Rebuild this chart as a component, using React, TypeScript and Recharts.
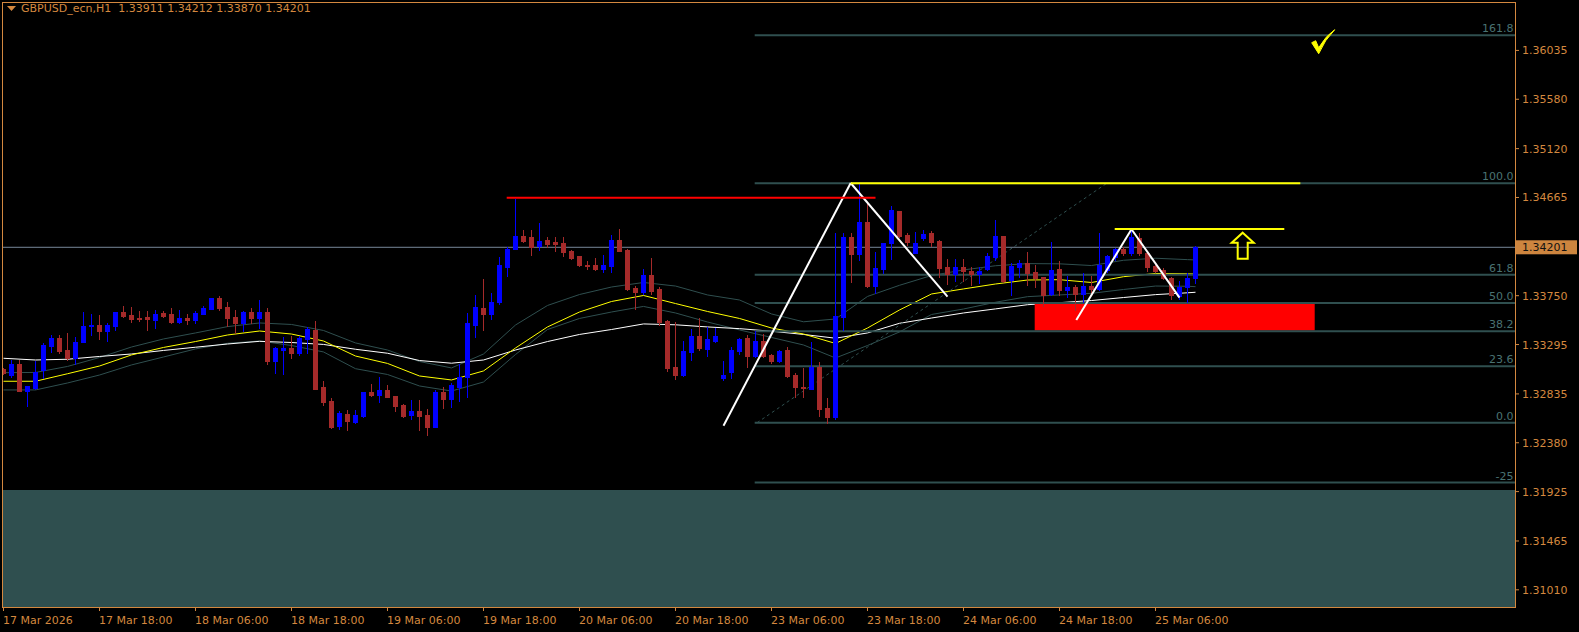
import React from 'react';
import { ComposedChart, Bar, Line, XAxis, YAxis, ReferenceLine, ReferenceArea, ReferenceDot } from 'recharts';

// ---------- data ----------
const symbolTitle = 'GBPUSD_ecn,H1';

const opens = [1.33064,1.33012,1.33114,1.32866,1.32890,1.33058,1.33285,1.33356,1.33244,1.33173,1.33319,1.33468,1.33477,1.33425,1.33471,1.33598,1.33570,1.33546,1.33555,1.33527,1.33589,1.33580,1.33508,1.33546,1.33527,1.33583,1.33626,1.33729,1.33645,1.33552,1.33499,1.33598,1.33546,1.33598,1.33142,1.33248,1.33263,1.33217,1.33347,1.33431,1.32900,1.32769,1.32540,1.32648,1.32577,1.32633,1.32853,1.32825,1.32872,1.32816,1.32732,1.32639,1.32676,1.32639,1.32527,1.32853,1.32788,1.32900,1.32993,1.33477,1.33636,1.33580,1.33692,1.34018,1.34185,1.34306,1.34297,1.34213,1.34269,1.34250,1.34241,1.34167,1.34120,1.34036,1.34036,1.33999,1.34027,1.34269,1.34176,1.33822,1.33785,1.33943,1.33813,1.33515,1.33086,1.33012,1.33226,1.33375,1.33254,1.33328,1.32987,1.33040,1.33235,1.33356,1.33189,1.33328,1.33198,1.33142,1.33244,1.33012,1.32900,1.32884,1.33089,1.32707,1.32623,1.33555,1.34294,1.34139,1.34440,1.33843,1.33999,1.34238,1.34539,1.34316,1.34145,1.34290,1.34337,1.34260,1.34015,1.33955,1.34015,1.33983,1.33949,1.33996,1.34113,1.34306,1.33896,1.34020,1.34052,1.33968,1.33927,1.33766,1.33999,1.33803,1.33834,1.33766,1.33843,1.33813,1.33990,1.34108,1.34182,1.34151,1.34285,1.34145,1.34027,1.33990,1.33918,1.33747,1.33834,1.33911];
const highs = [1.33074,1.33151,1.33151,1.32912,1.33142,1.33307,1.33384,1.33384,1.33400,1.33369,1.33598,1.33580,1.33570,1.33493,1.33601,1.33654,1.33645,1.33608,1.33608,1.33617,1.33608,1.33636,1.33617,1.33580,1.33608,1.33654,1.33732,1.33747,1.33692,1.33617,1.33605,1.33636,1.33710,1.33636,1.33276,1.33362,1.33375,1.33375,1.33459,1.33515,1.32956,1.32794,1.32676,1.32686,1.32686,1.32856,1.32928,1.32993,1.32918,1.32819,1.32741,1.32779,1.32779,1.32695,1.32872,1.32900,1.32937,1.33114,1.33589,1.33757,1.33906,1.33775,1.34111,1.34204,1.34651,1.34362,1.34362,1.34427,1.34297,1.34297,1.34297,1.34176,1.34123,1.34073,1.34101,1.34129,1.34316,1.34372,1.34185,1.33841,1.33999,1.34101,1.33831,1.33524,1.33505,1.33328,1.33440,1.33543,1.33459,1.33449,1.33142,1.33272,1.33356,1.33384,1.33421,1.33394,1.33207,1.33244,1.33272,1.33030,1.33077,1.33322,1.33135,1.32801,1.34331,1.34331,1.34331,1.34797,1.34611,1.34160,1.34241,1.34589,1.34539,1.34337,1.34346,1.34362,1.34356,1.34269,1.34092,1.34092,1.34089,1.34015,1.34015,1.34145,1.34455,1.34306,1.34052,1.34083,1.34160,1.34036,1.33927,1.34253,1.34076,1.33934,1.33850,1.33959,1.33934,1.34331,1.34129,1.34192,1.34207,1.34369,1.34331,1.34154,1.34036,1.34005,1.33927,1.33887,1.33959,1.34212];
const lows = [1.33021,1.32990,1.32860,1.32723,1.32884,1.32981,1.33229,1.33220,1.33151,1.33114,1.33316,1.33384,1.33347,1.33328,1.33431,1.33555,1.33508,1.33511,1.33434,1.33453,1.33552,1.33499,1.33499,1.33490,1.33499,1.33580,1.33623,1.33617,1.33471,1.33400,1.33425,1.33499,1.33453,1.33117,1.33033,1.33024,1.33173,1.33198,1.33220,1.32878,1.32735,1.32521,1.32512,1.32502,1.32564,1.32623,1.32816,1.32760,1.32807,1.32679,1.32623,1.32602,1.32502,1.32456,1.32524,1.32704,1.32713,1.32769,1.32807,1.33366,1.33431,1.33533,1.33673,1.33934,1.34182,1.34250,1.34129,1.34176,1.34204,1.34167,1.34120,1.34092,1.34027,1.33999,1.33990,1.33971,1.33971,1.34164,1.33803,1.33626,1.33766,1.33766,1.33477,1.33049,1.32974,1.33002,1.33151,1.33244,1.33189,1.33319,1.32965,1.32984,1.33207,1.33086,1.33179,1.33179,1.33123,1.33133,1.32996,1.32807,1.32810,1.32884,1.32629,1.32567,1.32604,1.33431,1.33881,1.34083,1.33834,1.33778,1.33959,1.34092,1.34300,1.34222,1.34145,1.34269,1.34213,1.33927,1.33859,1.33890,1.33890,1.33850,1.33866,1.33990,1.34083,1.33881,1.33757,1.33927,1.33850,1.33834,1.33654,1.33757,1.33757,1.33741,1.33617,1.33694,1.33772,1.33803,1.33974,1.34083,1.34129,1.34129,1.34129,1.33983,1.33974,1.33903,1.33717,1.33722,1.33694,1.33870];
const closes = [1.33027,1.33114,1.32866,1.32909,1.33043,1.33291,1.33356,1.33235,1.33173,1.33319,1.33468,1.33477,1.33425,1.33477,1.33598,1.33564,1.33536,1.33536,1.33536,1.33580,1.33564,1.33508,1.33546,1.33527,1.33589,1.33639,1.33729,1.33639,1.33546,1.33499,1.33598,1.33546,1.33598,1.33142,1.33263,1.33263,1.33220,1.33356,1.33440,1.32881,1.32763,1.32530,1.32658,1.32586,1.32639,1.32853,1.32825,1.32872,1.32810,1.32726,1.32630,1.32676,1.32630,1.32527,1.32853,1.32788,1.32918,1.32993,1.33496,1.33645,1.33580,1.33692,1.34036,1.34185,1.34306,1.34260,1.34204,1.34260,1.34232,1.34232,1.34157,1.34101,1.34036,1.34027,1.33999,1.34036,1.34269,1.34167,1.33813,1.33785,1.33943,1.33794,1.33505,1.33077,1.33012,1.33235,1.33375,1.33263,1.33347,1.33375,1.33012,1.33244,1.33347,1.33189,1.33328,1.33189,1.33142,1.33235,1.33002,1.32900,1.32893,1.33089,1.32692,1.32623,1.33561,1.34294,1.34139,1.34440,1.33840,1.34011,1.34241,1.34548,1.34309,1.34250,1.34241,1.34325,1.34253,1.34011,1.33955,1.34015,1.33980,1.33952,1.33980,1.34123,1.34306,1.33890,1.34027,1.34052,1.33959,1.33918,1.33757,1.33990,1.33803,1.33834,1.33766,1.33843,1.33810,1.34036,1.34120,1.34182,1.34151,1.34300,1.34145,1.34020,1.33983,1.33912,1.33757,1.33834,1.33918,1.34201];

// moving averages, read every 4 bars
const maIndex = [0,4,8,12,16,20,24,28,32,36,40,44,48,52,56,60,64,68,72,76,80,84,88,92,96,100,104,108,112,116,120,124,128,132,136,140,144,148,149];
const maYellow = [1.32953,1.32953,1.33023,1.33095,1.33198,1.33268,1.33323,1.33384,1.33421,1.33393,1.33328,1.33188,1.33119,1.33002,1.32965,1.33049,1.33263,1.33459,1.33598,1.33696,1.33752,1.33677,1.33603,1.33538,1.33449,1.33393,1.33305,1.33449,1.33617,1.33766,1.33813,1.33859,1.33896,1.33899,1.33873,1.33927,1.33957,1.33954,1.33952];
const maWhite = [1.33167,1.33151,1.33158,1.33184,1.33207,1.33240,1.33270,1.33300,1.33325,1.33314,1.33296,1.33251,1.33214,1.33146,1.33121,1.33151,1.33244,1.33323,1.33389,1.33435,1.33487,1.33479,1.33459,1.33443,1.33419,1.33389,1.33354,1.33403,1.33493,1.33542,1.33589,1.33627,1.33666,1.33685,1.33705,1.33733,1.33760,1.33777,1.33782];
const bandUpper = [1.33033,1.33035,1.33091,1.33174,1.33272,1.33347,1.33403,1.33462,1.33496,1.33482,1.33426,1.33310,1.33244,1.33137,1.33077,1.33207,1.33477,1.33659,1.33761,1.33831,1.33873,1.33840,1.33757,1.33710,1.33580,1.33507,1.33533,1.33743,1.33847,1.33938,1.33990,1.34029,1.34049,1.34047,1.34031,1.34080,1.34099,1.34086,1.34083];
const bandLower = [1.32872,1.32872,1.32937,1.33011,1.33105,1.33179,1.33254,1.33307,1.33328,1.33286,1.33226,1.33070,1.33016,1.32909,1.32862,1.32946,1.33202,1.33435,1.33538,1.33598,1.33650,1.33589,1.33505,1.33431,1.33361,1.33291,1.33170,1.33286,1.33412,1.33575,1.33626,1.33689,1.33741,1.33757,1.33772,1.33808,1.33840,1.33838,1.33834];

const xTickIndex = [0,12,24,36,48,60,72,84,96,108,120,132,144];
const xTickLabels = ['17 Mar 2026','17 Mar 18:00','18 Mar 06:00','18 Mar 18:00','19 Mar 06:00','19 Mar 18:00','20 Mar 06:00','20 Mar 18:00','23 Mar 06:00','23 Mar 18:00','24 Mar 06:00','24 Mar 18:00','25 Mar 06:00'];
const yTicks = [1.36035,1.35580,1.35120,1.34665,1.34201,1.33750,1.33295,1.32835,1.32380,1.31925,1.31465,1.31010];

// fibonacci tool
const fibLow = 1.32567;
const fibHigh = 1.34797;
const fibLevels = [161.8, 100, 61.8, 50, 38.2, 23.6, 0, -25];
const fibLabels = ['161.8','100.0','61.8','50.0','38.2','23.6','0.0','-25'];
const fibStart = 93.9;
const fibDiag = [{ x: 94.2, y: 1.32567 }, { x: 137.9, y: 1.34797 }];

// drawn objects (bar index, price)
const whiteLines = [
  [{ x: 90.0, y: 1.32539 }, { x: 105.9, y: 1.34800 }],
  [{ x: 105.9, y: 1.34800 }, { x: 118.0, y: 1.33741 }],
  [{ x: 134.1, y: 1.33524 }, { x: 141.0, y: 1.34369 }],
  [{ x: 141.0, y: 1.34369 }, { x: 147.0, y: 1.33732 }],
];
const redLevel = { from: 62.9, to: 109.0, price: 1.34663 };
const yellowLevels = [
  { from: 105.9, to: 162.1, price: 1.34797 },
  { from: 138.9, to: 160.1, price: 1.34371 },
];
const redZone = { from: 128.9, to: 163.9, top: 1.33680, bottom: 1.33425 };
const greyZoneTop = 1.31940;
const arrowAt = { x: 154.9, y: 1.34216 };
const checkAt = { x: 164.9, y: 1.36116 };

// ---------- layout ----------
const W = 1579;
const H = 632;
const X_MIN = -0.1875;
const X_MAX = 188.9375;
const Y_MIN = 1.3085;
const Y_MAX = 1.36486;
const ORANGE = '#D4883F';
const BOX = '#CD853F';
const SLATE = '#2F4F4F';
const FONT = 'DejaVu Sans';

const lastIdx = opens.length - 1;
const lastPrice = closes[lastIdx];

const data: any[] = opens.map((o, i) => ({
  i,
  o,
  h: highs[i],
  l: lows[i],
  c: closes[i],
  hl: [lows[i], highs[i]],
}));
maIndex.forEach((idx, k) => {
  data[idx].ma = maYellow[k];
  data[idx].mw = maWhite[k];
  data[idx].bu = bandUpper[k];
  data[idx].bl = bandLower[k];
});

const Candle = (props: any) => {
  const { x, y, width, height, payload } = props;
  if (x == null || y == null || !payload) return null;
  const top = Math.min(y, y + height);
  const hgt = Math.abs(height);
  const { o, h, l, c } = payload;
  const range = h - l;
  const py = (v: number) => (range === 0 ? top : top + ((h - v) / range) * hgt);
  const cx = Math.round(x + width / 2 - 0.5) + 0.5;
  const up = c >= o;
  const color = up ? '#0000FF' : '#A52A2A';
  const bt = Math.round(py(Math.max(o, c)));
  const bb = Math.round(py(Math.min(o, c)));
  return (
    <g>
      <line x1={cx} x2={cx} y1={Math.round(top)} y2={Math.round(top + hgt) + 1} stroke={color} strokeWidth={1} shapeRendering="crispEdges" />
      <rect x={cx - 2.5} y={bt} width={5} height={Math.max(1, bb - bt + 1)} fill={color} shapeRendering="crispEdges" />
    </g>
  );
};

const XTick = (props: any) => {
  const { x, payload } = props;
  const k = xTickIndex.indexOf(payload.value);
  return (
    <text x={x - 0.5} y={624} fill={ORANGE} fontSize={11} fontFamily={FONT} textAnchor="start">
      {xTickLabels[k]}
    </text>
  );
};

const YTick = (props: any) => {
  const { y, payload } = props;
  const v = payload.value as number;
  const txt = v.toFixed(5);
  if (Math.abs(v - lastPrice) < 1e-9) {
    return (
      <g>
        <rect x={1516} y={y - 7} width={61} height={14} fill={BOX} />
        <text x={1522} y={y + 4} fill="#111" fontSize={11} fontFamily={FONT}>{txt}</text>
      </g>
    );
  }
  return (
    <text x={1522} y={y + 4} fill={ORANGE} fontSize={11} fontFamily={FONT}>{txt}</text>
  );
};

const FibText = (text: string) => (props: any) => {
  const { cx, cy } = props;
  if (cx == null) return null;
  return (
    <text x={cx} y={cy - 3} fill="#4A7272" fontSize={11} fontFamily={FONT} textAnchor="end">{text}</text>
  );
};

const ArrowShape = (props: any) => {
  const { cx, cy } = props;
  if (cx == null) return null;
  const p = [
    [0, -13], [11, -3], [5, -3], [5, 13], [-5, 13], [-5, -3], [-11, -3],
  ].map(([a, b]) => `${cx + a},${cy + b}`).join(' ');
  return <polygon points={p} fill="none" stroke="#FFFF00" strokeWidth={2} strokeLinejoin="miter" />;
};

const CheckShape = (props: any) => {
  const { cx, cy } = props;
  if (cx == null) return null;
  const d = `M ${cx - 11} ${cy + 1} L ${cx - 7} ${cy - 1} L ${cx - 4} ${cy + 6} Q ${cx + 3} ${cy - 6} ${cx + 12} ${cy - 12} Q ${cx + 2} ${cy - 2} ${cx - 4} ${cy + 12} Z`;
  return <path d={d} fill="#FFFF00" stroke="#FFFF00" strokeWidth={1} strokeLinejoin="round" />;
};

export default function App() {
  const last = { o: opens[lastIdx], h: highs[lastIdx], l: lows[lastIdx], c: closes[lastIdx] };
  return (
    <div style={{ position: 'absolute', left: 0, top: 0, width: W, height: H, background: '#000', overflow: 'hidden' }}>
      <ComposedChart width={W} height={H} data={data} margin={{ top: 2, right: 0, bottom: 0, left: 2 }}>
        <XAxis
          dataKey="i"
          type="number"
          domain={[X_MIN, X_MAX]}
          allowDataOverflow
          ticks={xTickIndex}
          interval={0}
          height={25}
          axisLine={false}
          tickLine={{ stroke: ORANGE }}
          tickSize={4}
          tick={<XTick />}
        />
        <YAxis
          orientation="right"
          type="number"
          domain={[Y_MIN, Y_MAX]}
          allowDataOverflow
          ticks={yTicks}
          interval={0}
          width={64}
          axisLine={false}
          tickLine={{ stroke: ORANGE }}
          tickSize={4}
          tick={<YTick />}
        />

        <ReferenceArea x1={X_MIN} x2={X_MAX} y1={Y_MIN} y2={greyZoneTop} fill={SLATE} fillOpacity={1} stroke="none" zIndex={5} />

        <Line dataKey="bu" stroke={SLATE} strokeWidth={1} dot={false} connectNulls isAnimationActive={false} />
        <Line dataKey="bl" stroke={SLATE} strokeWidth={1} dot={false} connectNulls isAnimationActive={false} />
        <Line dataKey="mw" stroke="#FFFFFF" strokeWidth={1} dot={false} connectNulls isAnimationActive={false} />
        <Line dataKey="ma" stroke="#FFFF00" strokeWidth={1} dot={false} connectNulls isAnimationActive={false} />

        <ReferenceArea x1={redZone.from} x2={redZone.to} y1={redZone.bottom} y2={redZone.top} fill="#FF0000" fillOpacity={1} stroke="none" zIndex={405} />

        {fibLevels.map((lv) => {
          const p = fibLow + ((fibHigh - fibLow) * lv) / 100;
          return (
            <ReferenceLine key={'f' + lv} segment={[{ x: fibStart, y: p }, { x: X_MAX, y: p }]} stroke={SLATE} strokeWidth={2} zIndex={410} />
          );
        })}
        <ReferenceLine segment={fibDiag} stroke={SLATE} strokeWidth={1} strokeDasharray="3 3" zIndex={410} />

        <ReferenceLine y={lastPrice} stroke="#778899" strokeWidth={1} zIndex={415} />

        <Bar dataKey="hl" barSize={5} shape={<Candle />} isAnimationActive={false} zIndex={450} />

        {whiteLines.map((seg, k) => (
          <ReferenceLine key={'w' + k} segment={seg} stroke="#FFFFFF" strokeWidth={2} zIndex={470} />
        ))}
        <ReferenceLine segment={[{ x: redLevel.from, y: redLevel.price }, { x: redLevel.to, y: redLevel.price }]} stroke="#FF0000" strokeWidth={2} zIndex={470} />
        {yellowLevels.map((lv, k) => (
          <ReferenceLine key={'y' + k} segment={[{ x: lv.from, y: lv.price }, { x: lv.to, y: lv.price }]} stroke="#FFFF00" strokeWidth={2} zIndex={470} />
        ))}

        {fibLevels.map((lv, k) => {
          const p = fibLow + ((fibHigh - fibLow) * lv) / 100;
          return (
            <ReferenceDot key={'fl' + lv} x={X_MAX - 0.2} y={p} r={0} shape={FibText(fibLabels[k])} ifOverflow="visible" zIndex={480} />
          );
        })}
        <ReferenceDot x={arrowAt.x} y={arrowAt.y} r={0} shape={<ArrowShape />} ifOverflow="visible" zIndex={480} />
        <ReferenceDot x={checkAt.x} y={checkAt.y} r={0} shape={<CheckShape />} ifOverflow="visible" zIndex={480} />
      </ComposedChart>

      <div style={{ position: 'absolute', left: 2, top: 2, width: 1514, height: 606, boxSizing: 'border-box', border: `1px solid ${ORANGE}`, pointerEvents: 'none' }} />
      <svg style={{ position: 'absolute', left: 7, top: 5 }} width={10} height={8}>
        <polygon points="0,1 9,1 4.5,6" fill={ORANGE} />
      </svg>
      <div style={{ position: 'absolute', left: 21, top: 2, fontFamily: FONT, fontSize: 11, lineHeight: '13px', color: ORANGE, whiteSpace: 'pre' }}>
        {`${symbolTitle}  ${last.o.toFixed(5)} ${last.h.toFixed(5)} ${last.l.toFixed(5)} ${last.c.toFixed(5)}`}
      </div>
    </div>
  );
}
